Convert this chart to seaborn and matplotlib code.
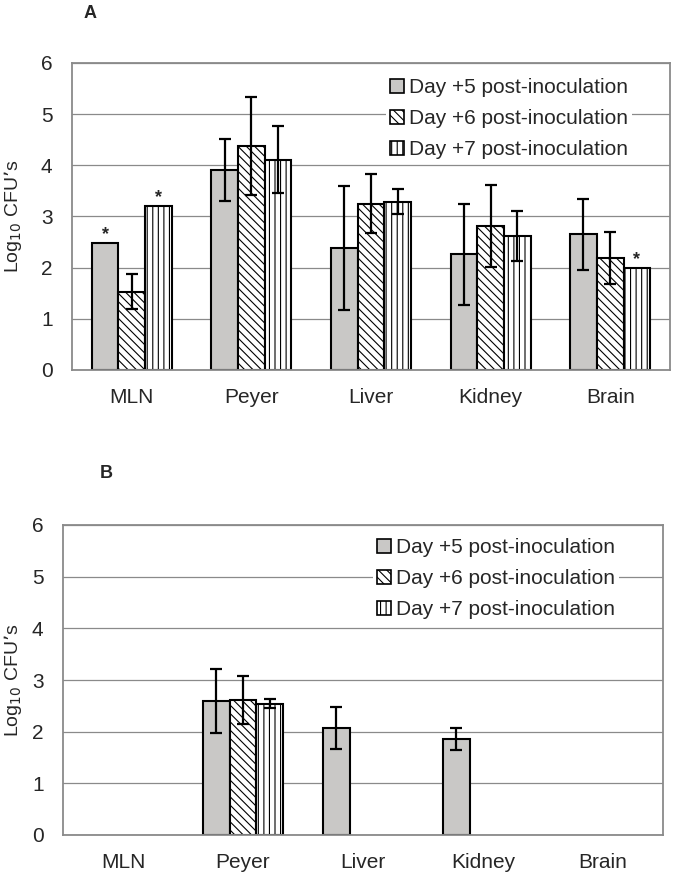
import numpy as np
import pandas as pd
import matplotlib
matplotlib.use('Agg')
import matplotlib.pyplot as plt
import seaborn as sns
from matplotlib.patches import Patch

# categories
organs = ['MLN', 'Peyer', 'Liver', 'Kidney', 'Brain']
days = ['Day +5 post-inoculation', 'Day +6 post-inoculation', 'Day +7 post-inoculation']

# panel A: mean log10 CFU per organ (one list per day) and SD
a_day5 = [2.48, 3.91, 2.39, 2.26, 2.65]
a_day6 = [1.53, 4.38, 3.25, 2.82, 2.19]
a_day7 = [3.21, 4.11, 3.29, 2.62, 1.99]
a_sd5 = [np.nan, 0.60, 1.21, 0.98, 0.69]
a_sd6 = [0.34, 0.96, 0.58, 0.80, 0.50]
a_sd7 = [np.nan, 0.66, 0.24, 0.48, np.nan]
a_stars = [('MLN', 0), ('MLN', 2), ('Brain', 2)]

# panel B
b_day5 = [np.nan, 2.59, 2.07, 1.86, np.nan]
b_day6 = [np.nan, 2.61, np.nan, np.nan, np.nan]
b_day7 = [np.nan, 2.54, np.nan, np.nan, np.nan]
b_sd5 = [np.nan, 0.62, 0.40, 0.21, np.nan]
b_sd6 = [np.nan, 0.47, np.nan, np.nan, np.nan]
b_sd7 = [np.nan, 0.085, np.nan, np.nan, np.nan]
b_stars = []

yticks = [0, 1, 2, 3, 4, 5, 6]

sns.set_style('white')
plt.rcParams['font.family'] = ['Liberation Sans', 'DejaVu Sans']
plt.rcParams['hatch.linewidth'] = 0.8

gray = '#c9c8c6'
fills = [gray, 'white', 'white']
hatches = ['', '\\\\\\\\', '|||']
frame_col = '#8a8a8a'


def draw_panel(ax, d5, d6, d7, s5, s6, s7, stars, leg_anchor):
    df = pd.DataFrame({'organ': organs * 3,
                       'day': np.repeat(days, len(organs)),
                       'cfu': d5 + d6 + d7})
    sns.barplot(data=df, x='organ', y='cfu', hue='day', order=organs,
                hue_order=days, palette=fills, width=0.67, gap=0,
                errorbar=None, legend=False, ax=ax,
                edgecolor='black', linewidth=1.5, saturation=1)
    sds = [s5, s6, s7]
    vals = [d5, d6, d7]
    bar_sets = list(ax.containers)
    for j, cont in enumerate(bar_sets):
        for bar in cont:
            bar.set_hatch(hatches[j])
            bar.set_facecolor(fills[j])
            bar.set_zorder(2)
            xc = bar.get_x() + bar.get_width() / 2
            i = int(round(xc))
            if np.isnan(vals[j][i]):
                continue
            if not np.isnan(sds[j][i]):
                ax.errorbar(xc, vals[j][i], yerr=sds[j][i], fmt='none',
                            ecolor='black', elinewidth=1.6, capsize=4,
                            capthick=1.6, zorder=3)
            if (organs[i], j) in stars:
                ax.text(xc, vals[j][i] + 0.08, '*', ha='center',
                        va='baseline', fontsize=13, fontweight='bold')

    ax.set_ylim(0, 6)
    ax.set_xlim(-0.5, len(organs) - 0.5)
    ax.set_yticks(yticks)
    ax.yaxis.grid(True, color=frame_col, linewidth=0.9)
    ax.set_axisbelow(True)
    for sp in ax.spines.values():
        sp.set_visible(True)
        sp.set_color(frame_col)
        sp.set_linewidth(1.3)
    ax.set_xlabel('')
    ax.set_ylabel('Log$_{10}$ CFU\u2019s', fontsize=14)
    ax.tick_params(axis='y', length=0, pad=14, labelsize=15)
    ax.tick_params(axis='x', which='major', length=0, pad=13, labelsize=15)
    ax.set_xticks(np.arange(-0.5, len(organs)), minor=True)
    ax.tick_params(axis='x', which='minor', length=5, color=frame_col, width=1)

    handles = [Patch(facecolor=fills[k], edgecolor='black', hatch=hatches[k],
                     linewidth=1.2) for k in range(3)]
    leg = ax.legend(handles, days, loc='upper left', bbox_to_anchor=leg_anchor,
                    bbox_transform=ax.figure.transFigure, fontsize=15,
                    frameon=True, facecolor='white', edgecolor='none',
                    framealpha=1, handlelength=0.65, handleheight=0.65,
                    handletextpad=0.25, labelspacing=0.58, borderpad=0.2,
                    borderaxespad=0)
    leg.set_zorder(4)


fig = plt.figure(figsize=(6.78, 8.75), dpi=100)
W, H = 678.0, 875.0

axA = fig.add_axes([72 / W, 1 - 370 / H, 598 / W, 307 / H])
draw_panel(axA, a_day5, a_day6, a_day7, a_sd5, a_sd6, a_sd7, a_stars,
           (386 / W, 1 - 74 / H))
axA.yaxis.set_label_coords(-0.08, 0.5)

axB = fig.add_axes([63 / W, 1 - 835 / H, 600 / W, 310 / H])
draw_panel(axB, b_day5, b_day6, b_day7, b_sd5, b_sd6, b_sd7, b_stars,
           (373 / W, 1 - 534 / H))
axB.yaxis.set_label_coords(-0.065, 0.5)

fig.text(90 / W, 1 - 13 / H, 'A', fontsize=13, fontweight='bold',
         ha='center', va='center')
fig.text(106 / W, 1 - 473 / H, 'B', fontsize=13, fontweight='bold',
         ha='center', va='center')

fig.savefig('out.png', dpi=100)
